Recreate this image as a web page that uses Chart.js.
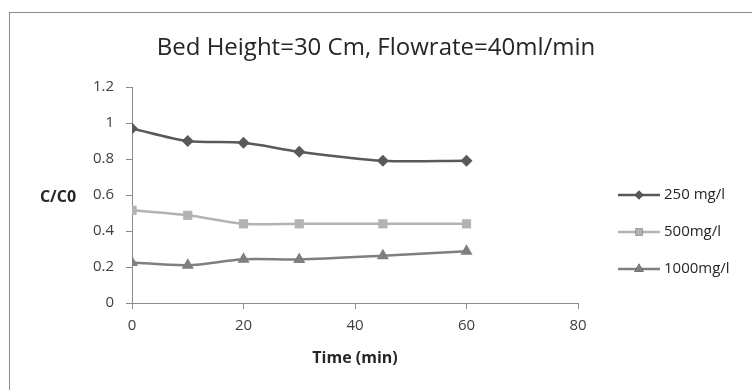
<!DOCTYPE html>
<html>
<head>
<meta charset="utf-8">
<script src="https://cdn.jsdelivr.net/npm/chart.js@4.4.1/dist/chart.umd.min.js"></script>
<style>
  html, body { margin: 0; padding: 0; background: #fff; }
  #wrap { width: 752px; height: 390px; }
</style>
</head>
<body>
<div id="wrap"><canvas id="breakthrough" width="752" height="390"></canvas></div>
<script>
// time points (min) and C/C0 for each inlet concentration
var timeMin = [0, 10, 20, 30, 45, 60];
var conc250 = [0.97, 0.90, 0.89, 0.84, 0.79, 0.79];
var conc500 = [0.515, 0.487, 0.44, 0.44, 0.44, 0.44];
var conc1000 = [0.225, 0.21, 0.243, 0.242, 0.263, 0.288];
var seriesNames = ['250 mg/l', '500mg/l', '1000mg/l'];
var xTicks = [0, 20, 40, 60, 80];
var yTicks = [0, 0.2, 0.4, 0.6, 0.8, 1, 1.2];
var chartTitle = 'Bed Height=30 Cm, Flowrate=40ml/min';

var FONT = "'Open Sans', 'Noto Sans', sans-serif";

function toPoints(xs, ys) {
  return xs.map(function(x, i) { return { x: x, y: ys[i] }; });
}

function makeSeries(label, values, color, style, radius) {
  return {
    label: label,
    data: toPoints(timeMin, values),
    borderColor: color,
    backgroundColor: color,
    borderWidth: 2.5,
    pointStyle: style,
    pointRadius: radius,
    pointHoverRadius: radius,
    pointBorderWidth: 0,
    tension: 0.3,
    fill: false
  };
}

// outer frame, title, horizontal y title and the line+marker legend on the right
var decorations = {
  id: 'decorations',
  afterDraw: function(chart) {
    var ctx = chart.ctx;
    var area = chart.chartArea;
    ctx.save();
    ctx.strokeStyle = '#8c8c8c';
    ctx.lineWidth = 1;
    ctx.strokeRect(9.5, 12.5, 800, 400);

    ctx.fillStyle = '#262626';
    ctx.font = '24px ' + FONT;
    ctx.textAlign = 'center';
    ctx.textBaseline = 'middle';
    ctx.fillText(chartTitle, 376, 48);

    var yScale = chart.scales.y;
    ctx.font = 'bold 16px ' + FONT;
    ctx.fillText('C/C0', 58, yScale.getPixelForValue(0.6) + 2);

    var lx = area.right + 40;
    chart.data.datasets.forEach(function(ds, i) {
      var y = 195 + i * 37;
      ctx.strokeStyle = ds.borderColor;
      ctx.lineWidth = ds.borderWidth;
      ctx.beginPath();
      ctx.moveTo(lx, y);
      ctx.lineTo(lx + 42, y);
      ctx.stroke();
      Chart.helpers.drawPoint(ctx, {
        pointStyle: ds.pointStyle,
        radius: ds.pointRadius - 1.5,
        borderWidth: 0
      }, lx + 21, y);
      ctx.fillStyle = ds.borderColor;
      ctx.fill();
      ctx.fillStyle = '#262626';
      ctx.font = '15px ' + FONT;
      ctx.textAlign = 'left';
      ctx.fillText(ds.label, lx + 46, y);
    });
    ctx.restore();
  }
};

var ctx = document.getElementById('breakthrough').getContext('2d');
var breakthroughChart = new Chart(ctx, {
  type: 'line',
  data: {
    datasets: [
      makeSeries(seriesNames[0], conc250, '#595959', 'rectRot', 6),
      makeSeries(seriesNames[1], conc500, '#b3b3b3', 'rect', 6.5),
      makeSeries(seriesNames[2], conc1000, '#7f7f7f', 'triangle', 7)
    ]
  },
  options: {
    responsive: false,
    animation: false,
    layout: { padding: { left: 0, right: 174, top: 87, bottom: 22 } },
    plugins: {
      legend: { display: false },
      tooltip: { enabled: false },
      title: { display: false }
    },
    scales: {
      x: {
        type: 'linear',
        min: 0,
        max: 80,
        afterBuildTicks: function(scale) {
          scale.ticks = xTicks.map(function(v) { return { value: v }; });
        },
        afterFit: function(scale) { scale.height = 65; },
        grid: { display: true, drawOnChartArea: false, drawTicks: true, tickLength: 6, color: '#8c8c8c' },
        border: { color: '#8c8c8c', width: 1 },
        ticks: { color: '#404040', font: { family: FONT, size: 15 }, padding: 8, maxRotation: 0 },
        title: {
          display: true,
          text: 'Time (min)',
          color: '#262626',
          font: { family: FONT, size: 16, weight: 'bold' },
          padding: { top: 4, bottom: 0 }
        }
      },
      y: {
        min: 0,
        max: 1.2,
        afterBuildTicks: function(scale) {
          scale.ticks = yTicks.map(function(v) { return { value: v }; });
        },
        afterFit: function(scale) { scale.width = 132; },
        grid: { display: true, drawOnChartArea: false, drawTicks: true, tickLength: 6, color: '#8c8c8c' },
        border: { color: '#8c8c8c', width: 1 },
        ticks: {
          color: '#404040',
          font: { family: FONT, size: 15 },
          padding: 12,
          callback: function(v) { return String(Math.round(v * 10) / 10); }
        }
      }
    }
  },
  plugins: [decorations]
});
</script>
</body>
</html>
